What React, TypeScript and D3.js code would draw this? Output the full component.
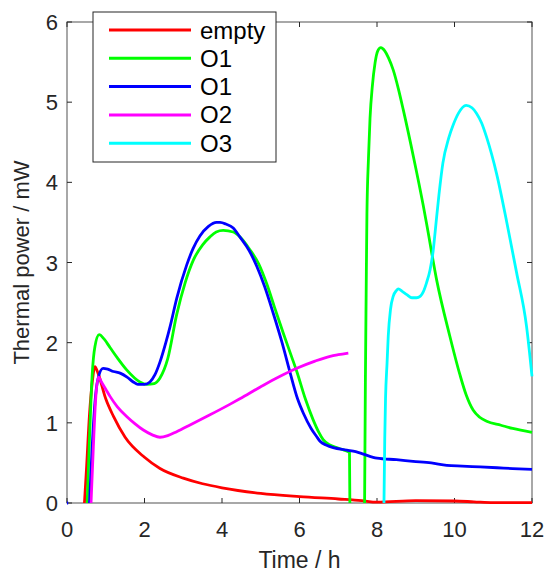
import React from "react";
import * as d3 from "d3";

// ---------- data ----------
const seriesNames = ["empty", "O1", "O1", "O2", "O3"];
const seriesColors = ["#ff0000", "#00ff00", "#0000ff", "#ff00ff", "#00ffff"];

const xTicks = [0, 2, 4, 6, 8, 10, 12];
const yTicks = [0, 1, 2, 3, 4, 5, 6];

const tEmpty = [0.45, 0.5, 0.58, 0.65, 0.72, 0.8, 1.0, 1.2, 1.5, 2.0, 2.4, 3.0, 3.5, 4.0, 5.0, 6.0, 7.0, 7.6, 8.0, 9.0, 10.0, 10.5, 11.0, 12.0];
const vEmpty = [0, 0.4, 1.1, 1.5, 1.7, 1.62, 1.3, 1.08, 0.82, 0.57, 0.43, 0.31, 0.24, 0.19, 0.12, 0.08, 0.05, 0.03, 0.01, 0.03, 0.025, 0.015, 0.005, 0.005];

const tO1a = [0.52, 0.58, 0.65, 0.72, 0.83, 0.95, 1.11, 1.3, 1.54, 1.88, 2.06, 2.25, 2.4, 2.6, 2.83, 3.05, 3.26, 3.5, 3.69, 3.85, 4.03, 4.29, 4.46, 4.72, 4.95, 5.15, 5.35, 5.58, 5.8, 5.93, 6.15, 6.35, 6.5, 6.61, 6.8, 6.96, 7.15, 7.29, 7.3, 7.5, 7.68, 7.7, 7.72, 7.74, 7.78, 7.82, 7.88, 7.95, 8.02, 8.1, 8.2, 8.3, 8.42, 8.55, 8.68, 8.94, 9.19, 9.3, 9.54, 9.88, 10.14, 10.3, 10.48, 10.65, 10.83, 11.2, 11.5, 12];
const vO1a = [0, 0.8, 1.6, 1.95, 2.1, 2.05, 1.94, 1.81, 1.66, 1.51, 1.48, 1.49, 1.56, 1.8, 2.35, 2.75, 3.03, 3.22, 3.32, 3.38, 3.4, 3.38, 3.32, 3.16, 2.98, 2.74, 2.45, 2.12, 1.82, 1.64, 1.3, 1.04, 0.88, 0.79, 0.72, 0.69, 0.66, 0.63, 0, null, 0, 1.5, 2.6, 3.6, 4.3, 4.8, 5.2, 5.49, 5.64, 5.68, 5.64, 5.55, 5.4, 5.17, 4.9, 4.32, 3.72, 3.43, 2.78, 2.08, 1.6, 1.35, 1.16, 1.07, 1.02, 0.97, 0.93, 0.88];

const tO1b = [0, 0.03, 0.3, 0.58, 0.65, 0.72, 0.8, 0.93, 1.05, 1.2, 1.37, 1.55, 1.71, 1.83, 2.0, 2.14, 2.27, 2.4, 2.55, 2.66, 2.83, 3.09, 3.25, 3.43, 3.65, 3.86, 3.95, 4.1, 4.29, 4.46, 4.7, 4.9, 5.1, 5.32, 5.55, 5.75, 5.95, 6.1, 6.3, 6.44, 6.53, 6.7, 6.87, 7.22, 7.45, 7.65, 7.9, 8.0, 8.5, 8.93, 9.4, 9.8, 10.2, 10.66, 11.1, 11.5, 12];
const vO1b = [0, 0, null, 0, 0.7, 1.25, 1.55, 1.68, 1.67, 1.64, 1.62, 1.57, 1.51, 1.48, 1.48, 1.51, 1.6, 1.76, 2.0, 2.2, 2.55, 2.97, 3.17, 3.33, 3.45, 3.5, 3.5, 3.48, 3.43, 3.32, 3.15, 2.95, 2.7, 2.37, 2.0, 1.64, 1.3, 1.12, 0.93, 0.83, 0.77, 0.72, 0.69, 0.66, 0.64, 0.61, 0.57, 0.56, 0.54, 0.52, 0.5, 0.47, 0.46, 0.45, 0.44, 0.43, 0.42];

const tO2 = [0.62, 0.68, 0.74, 0.81, 0.9, 1.0, 1.11, 1.3, 1.54, 1.75, 1.97, 2.2, 2.4, 2.6, 2.83, 3.2, 3.69, 4.2, 4.46, 5.07, 5.5, 5.93, 6.4, 6.79, 7.0, 7.26];
const vO2 = [0, 0.7, 1.3, 1.57, 1.5, 1.42, 1.33, 1.2, 1.08, 0.99, 0.91, 0.85, 0.82, 0.84, 0.89, 0.98, 1.1, 1.23, 1.3, 1.47, 1.58, 1.68, 1.77, 1.83, 1.85, 1.87];

const tO3 = [8.18, 8.2, 8.22, 8.26, 8.29, 8.35, 8.42, 8.5, 8.55, 8.65, 8.77, 8.9, 9.02, 9.12, 9.19, 9.28, 9.37, 9.45, 9.5, 9.6, 9.7, 9.85, 9.97, 10.1, 10.3, 10.45, 10.57, 10.7, 10.83, 11.09, 11.35, 11.6, 11.86, 12];
const vO3 = [0, 0.8, 1.3, 1.75, 2.08, 2.42, 2.58, 2.65, 2.67, 2.64, 2.6, 2.56, 2.56, 2.58, 2.63, 2.75, 2.91, 3.15, 3.38, 3.85, 4.24, 4.55, 4.72, 4.86, 4.96, 4.93, 4.86, 4.74, 4.56, 4.1, 3.5, 2.88, 2.2, 1.58];

const seriesT = [tEmpty, tO1a, tO1b, tO2, tO3];
const seriesV = [vEmpty, vO1a, vO1b, vO2, vO3];

// ---------- layout ----------
const W = 548;
const H = 573;
const left = 67;
const right = 532;
const top = 22;
const bottom = 503;
const FONT = "'Liberation Sans', Arial, Helvetica, sans-serif";
const AX = "#262626";

export default function App() {
  const x = d3.scaleLinear().domain([0, 12]).range([left, right]);
  const y = d3.scaleLinear().domain([0, 6]).range([bottom, top]);
  const line = d3
    .line<[number, number | null]>()
    .defined((d) => d[1] !== null)
    .x((d) => x(d[0]))
    .y((d) => y(d[1] as number))
    .curve(d3.curveMonotoneX);

  const tickLen = 5;
  const legX = 93, legY = 12, legW = 183, legH = 150;
  const rowH = 28.3;

  return (
    <svg width={W} height={H} style={{ position: "absolute", left: 0, top: 0, background: "#fff" }} fontFamily={FONT}>
      <rect x={0} y={0} width={W} height={H} fill="#fff" />
      {/* axes box */}
      <rect x={left} y={top} width={right - left} height={bottom - top} fill="none" stroke={AX} strokeWidth={1} strokeOpacity={0.8} />
      {xTicks.map((t) => (
        <g key={"xt" + t}>
          <line x1={x(t)} x2={x(t)} y1={bottom} y2={bottom - tickLen} stroke={AX} />
          <line x1={x(t)} x2={x(t)} y1={top} y2={top + tickLen} stroke={AX} />
          <text x={x(t)} y={bottom + 34} fontSize={22} textAnchor="middle" fill={AX}>
            {t}
          </text>
        </g>
      ))}
      {yTicks.map((v) => (
        <g key={"yt" + v}>
          <line x1={left} x2={left + tickLen} y1={y(v)} y2={y(v)} stroke={AX} />
          <line x1={right} x2={right - tickLen} y1={y(v)} y2={y(v)} stroke={AX} />
          <text x={left - 9} y={y(v) + 8} fontSize={22} textAnchor="end" fill={AX}>
            {v}
          </text>
        </g>
      ))}
      <text x={(left + right) / 2} y={568} fontSize={23} textAnchor="middle" fill={AX}>
        Time / h
      </text>
      <text transform={`translate(29,${(top + bottom) / 2}) rotate(-90)`} fontSize={22} textAnchor="middle" fill={AX}>
        Thermal power / mW
      </text>

      {/* series */}
      {seriesT.map((ts, i) => {
        const pts: [number, number | null][] = ts.map((t, k) => [t, seriesV[i][k]]);
        return (
          <path key={"s" + i} d={line(pts) || ""} fill="none" stroke={seriesColors[i]} strokeWidth={2.8} strokeLinejoin="round" />
        );
      })}

      {/* legend */}
      <rect x={legX} y={legY} width={legW} height={legH} fill="#fff" stroke={AX} strokeWidth={1} />
      {seriesNames.map((n, i) => {
        const cy = legY + 18 + i * rowH;
        return (
          <g key={"lg" + i}>
            <line x1={109} x2={191} y1={cy} y2={cy} stroke={seriesColors[i]} strokeWidth={3} />
            <text x={200} y={cy + 8.5} fontSize={24} fill="#000">
              {n}
            </text>
          </g>
        );
      })}
    </svg>
  );
}
